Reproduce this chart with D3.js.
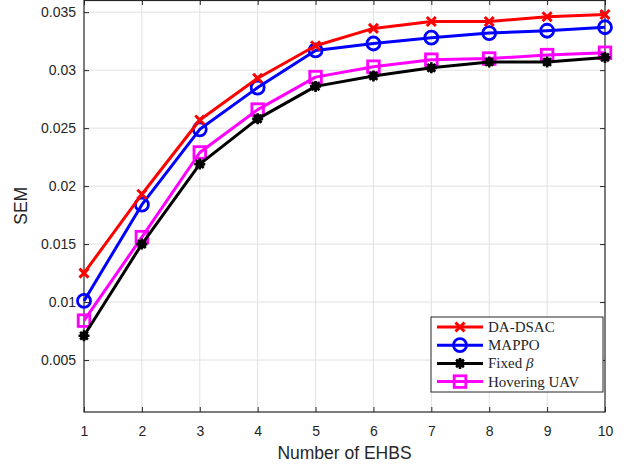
<!DOCTYPE html>
<html>
<head>
<meta charset="utf-8">
<script src="https://cdn.jsdelivr.net/npm/d3@7/dist/d3.min.js"></script>
<style>
  html, body { margin: 0; padding: 0; background: #fff; }
  svg { display: block; }
</style>
</head>
<body>
<svg id="chart" width="629" height="468"></svg>
<script>
// Number of EHBS on the horizontal axis
const ehbs = [1, 2, 3, 4, 5, 6, 7, 8, 9, 10];

// SEM for each scheme
const daDsac   = [0.0125, 0.0193, 0.0257, 0.0293, 0.0321, 0.0336, 0.0342, 0.0342, 0.0346, 0.0348];
const mappo    = [0.0101, 0.0184, 0.0249, 0.0285, 0.0317, 0.0323, 0.0328, 0.0332, 0.0334, 0.0337];
const fixedB   = [0.0071, 0.0150, 0.0219, 0.0258, 0.0286, 0.0295, 0.0302, 0.0307, 0.0307, 0.0311];
const hovering = [0.0084, 0.0156, 0.0229, 0.0266, 0.0294, 0.0303, 0.0309, 0.0310, 0.0313, 0.0315];

const yTicks = [0.005, 0.01, 0.015, 0.02, 0.025, 0.03, 0.035];
const yTickLabels = ["0.005", "0.01", "0.015", "0.02", "0.025", "0.03", "0.035"];

const series = [
  { name: "DA-DSAC",      values: daDsac,   color: "#ff0000", marker: "x" },
  { name: "MAPPO",        values: mappo,    color: "#0000ff", marker: "circle" },
  { name: "Fixed β",      values: fixedB,   color: "#000000", marker: "star" },
  { name: "Hovering UAV", values: hovering, color: "#ff00ff", marker: "square" }
];

const svg = d3.select("#chart");
const plotL = 84, plotR = 605, plotT = 0, plotB = 412;

const x = d3.scaleLinear().domain([1, 10]).range([plotL, plotR]);
const y = d3.scaleLinear().domain([0.00052, 0.03605]).range([plotB, plotT]);

const axisColor = "#262626";
const gridColor = "#e1e1e1";
const sans = "'Liberation Sans', Arial, Helvetica, sans-serif";

// grid
const grid = svg.append("g");
grid.selectAll("line.gx").data(ehbs.slice(1, -1)).join("line")
  .attr("x1", d => x(d)).attr("x2", d => x(d))
  .attr("y1", plotT).attr("y2", plotB)
  .attr("stroke", gridColor).attr("stroke-width", 1);
grid.selectAll("line.gy").data(yTicks).join("line")
  .attr("x1", plotL).attr("x2", plotR)
  .attr("y1", d => y(d)).attr("y2", d => y(d))
  .attr("stroke", gridColor).attr("stroke-width", 1);

// axes (ticks pointing inward, box on)
const tickLen = 5;
const xAxisB = d3.axisBottom(x).tickValues(ehbs).tickFormat(d3.format("d")).tickSizeInner(-tickLen).tickSizeOuter(0).tickPadding(14);
const xAxisT = d3.axisTop(x).tickValues(ehbs).tickFormat("").tickSizeInner(-tickLen).tickSizeOuter(0);
const yAxisL = d3.axisLeft(y).tickValues(yTicks).tickFormat((d, i) => yTickLabels[i]).tickSizeInner(-tickLen).tickSizeOuter(0).tickPadding(8);
const yAxisR = d3.axisRight(y).tickValues(yTicks).tickFormat("").tickSizeInner(-tickLen).tickSizeOuter(0);

function styleAxis(g) {
  g.select(".domain").remove();
  g.selectAll("line").attr("stroke", axisColor);
  g.selectAll("text").attr("fill", axisColor)
    .style("font-family", sans).style("font-size", "14px");
}
svg.append("g").attr("transform", `translate(0,${plotB})`).call(xAxisB).call(styleAxis);
svg.append("g").attr("transform", `translate(0,${plotT})`).call(xAxisT).call(styleAxis);
svg.append("g").attr("transform", `translate(${plotL},0)`).call(yAxisL).call(styleAxis);
svg.append("g").attr("transform", `translate(${plotR},0)`).call(yAxisR).call(styleAxis);

svg.append("rect")
  .attr("x", plotL).attr("y", plotT + 0.5)
  .attr("width", plotR - plotL).attr("height", plotB - plotT - 0.5)
  .attr("fill", "none").attr("stroke", axisColor).attr("stroke-width", 1.2);

// axis labels
svg.append("text")
  .attr("x", (plotL + plotR) / 2).attr("y", 459)
  .attr("text-anchor", "middle").attr("fill", axisColor)
  .style("font-family", sans).style("font-size", "17.5px")
  .text("Number of EHBS");
svg.append("text")
  .attr("transform", `translate(27,${y(0.0183)}) rotate(-90)`)
  .attr("text-anchor", "middle").attr("fill", axisColor)
  .style("font-family", sans).style("font-size", "17.5px")
  .text("SEM");

// marker drawing
function drawMarker(g, type, color) {
  if (type === "x") {
    const s = 4.5;
    g.append("path").attr("d", `M${-s},${-s}L${s},${s}M${-s},${s}L${s},${-s}`)
      .attr("stroke", color).attr("stroke-width", 3).attr("fill", "none");
  } else if (type === "circle") {
    g.append("circle").attr("r", 6.5).attr("fill", "none")
      .attr("stroke", color).attr("stroke-width", 2.8);
  } else if (type === "square") {
    g.append("rect").attr("x", -5.8).attr("y", -5.8).attr("width", 11.6).attr("height", 11.6)
      .attr("fill", "none").attr("stroke", color).attr("stroke-width", 2.8);
  } else if (type === "star") {
    const s = 5.5;
    let d = "";
    for (let k = 0; k < 4; k++) {
      const a = k * Math.PI / 4;
      d += `M${-s * Math.cos(a)},${-s * Math.sin(a)}L${s * Math.cos(a)},${s * Math.sin(a)}`;
    }
    g.append("circle").attr("r", 4.2).attr("fill", color);
    g.append("path").attr("d", d).attr("stroke", color).attr("stroke-width", 2.6).attr("fill", "none");
  }
}

const line = d3.line().x((d, i) => x(ehbs[i])).y(d => y(d));

// draw in reverse so DA-DSAC sits on top
[...series].reverse().forEach(s => {
  const g = svg.append("g");
  g.append("path").datum(s.values).attr("d", line)
    .attr("fill", "none").attr("stroke", s.color).attr("stroke-width", 3)
    .attr("stroke-linejoin", "round");
  s.values.forEach((v, i) => {
    drawMarker(g.append("g").attr("transform", `translate(${x(ehbs[i])},${y(v)})`), s.marker, s.color);
  });
});

// legend
const lg = svg.append("g").attr("transform", "translate(431,317)");
lg.append("rect").attr("x", 0).attr("y", 0).attr("width", 172).attr("height", 75)
  .attr("fill", "#fff").attr("stroke", axisColor).attr("stroke-width", 1);
series.forEach((s, i) => {
  const row = lg.append("g").attr("transform", `translate(0,${10 + i * 18.2})`);
  row.append("line").attr("x1", 6).attr("x2", 52).attr("y1", 0).attr("y2", 0)
    .attr("stroke", s.color).attr("stroke-width", 3);
  drawMarker(row.append("g").attr("transform", "translate(29,0)"), s.marker, s.color);
  const t = row.append("text").attr("x", 57).attr("y", 5)
    .attr("fill", axisColor)
    .style("font-family", "'Liberation Serif', 'Times New Roman', serif").style("font-size", "15px");
  if (s.name === "Fixed β") {
    t.append("tspan").text("Fixed ");
    t.append("tspan").style("font-style", "italic").text("β");
  } else {
    t.text(s.name);
  }
});
</script>
</body>
</html>
